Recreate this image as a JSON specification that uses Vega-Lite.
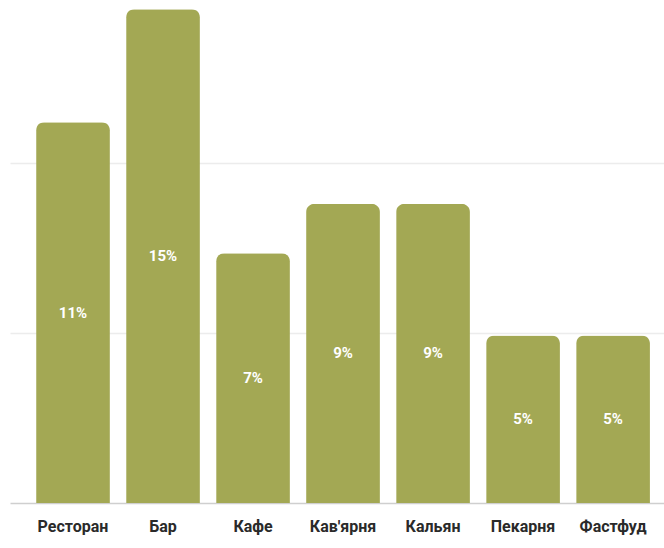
{
  "$schema": "https://vega.github.io/schema/vega-lite/v6.json",
  "width": 654,
  "height": 503,
  "autosize": {"type": "none"},
  "padding": {"left": 10, "top": 0, "right": 0, "bottom": 45},
  "background": "white",
  "config": {"view": {"stroke": null}},
  "data": {
    "values": [
      {"category": "Ресторан", "value": 11.2, "label": "11%"},
      {"category": "Бар", "value": 14.53, "label": "15%"},
      {"category": "Кафе", "value": 7.35, "label": "7%"},
      {"category": "Кав'ярня", "value": 8.8, "label": "9%"},
      {"category": "Кальян", "value": 8.8, "label": "9%"},
      {"category": "Пекарня", "value": 4.93, "label": "5%"},
      {"category": "Фастфуд", "value": 4.93, "label": "5%"}
    ]
  },
  "encoding": {
    "x": {
      "field": "category",
      "type": "nominal",
      "sort": null,
      "scale": {"paddingInner": 0.18, "paddingOuter": 0.223, "align": 0.65},
      "axis": {
        "title": null,
        "labelAngle": 0,
        "ticks": false,
        "domainColor": "#cfcfcf",
        "domainWidth": 1.5,
        "labelPadding": 15,
        "labelFont": "Roboto",
        "labelFontSize": 16,
        "labelFontWeight": "bold",
        "labelColor": "#2a2a2a",
        "labelBaseline": "top"
      }
    }
  },
  "layer": [
    {
      "mark": {"type": "bar", "color": "#a3a854", "cornerRadiusTopLeft": 8, "cornerRadiusTopRight": 8},
      "encoding": {
        "y": {
          "field": "value",
          "type": "quantitative",
          "scale": {"domain": [0, 14.8], "nice": false},
          "axis": {
            "title": null,
            "labels": false,
            "ticks": false,
            "domain": false,
            "values": [5, 10],
            "gridColor": "#ececec",
            "gridWidth": 1.5
          }
        }
      }
    },
    {
      "transform": [{"calculate": "datum.value / 2", "as": "mid"}],
      "mark": {"type": "text", "color": "white", "font": "Roboto", "fontSize": 15, "fontWeight": "bold", "baseline": "middle"},
      "encoding": {
        "y": {"field": "mid", "type": "quantitative", "scale": {"domain": [0, 14.8], "nice": false}},
        "text": {"field": "label"}
      }
    }
  ]
}
